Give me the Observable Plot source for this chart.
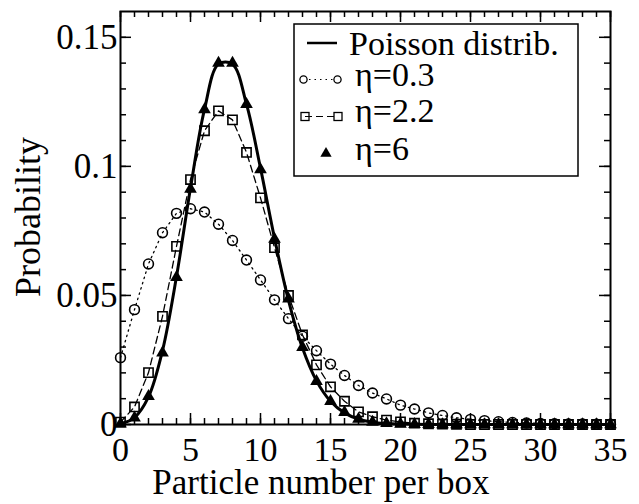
<!DOCTYPE html>
<html><head><meta charset="utf-8">
<script src="https://cdn.jsdelivr.net/npm/d3@7"></script>
<script src="https://cdn.jsdelivr.net/npm/@observablehq/plot@0.6"></script>
<style>body{margin:0;background:#fff}</style>
</head><body><div id="chart"></div>
<script>
const particles = [0,1,2,3,4,5,6,7,8,9,10,11,12,13,14,15,16,17,18,19,20,21,22,23,24,25,26,27,28,29,30,31,32,33,34,35];
const poisson = [0.0003,0.0027,0.0107,0.0286,0.0573,0.0916,0.1221,0.1396,0.1396,0.1241,0.0993,0.0722,0.0481,0.0296,0.0169,0.0090,0.0045,0.0021,0.0009,0.0004,0.0002,0.0001,0,0,0,0,0,0,0,0,0,0,0,0,0,0];
const eta03 = [0.0259,0.0445,0.0622,0.0743,0.0818,0.0836,0.0823,0.0776,0.0713,0.0637,0.0560,0.0483,0.0410,0.0342,0.0286,0.0234,0.0190,0.0151,0.0122,0.0099,0.0075,0.0060,0.0045,0.0035,0.0026,0.0020,0.0015,0.0011,0.0008,0.0006,0.0004,0.0003,0.0002,0.0002,0.0001,0.0001];
const eta22 = [0.0009,0.0068,0.0201,0.0419,0.0690,0.0949,0.1138,0.1215,0.1180,0.1054,0.0878,0.0685,0.0500,0.0347,0.0231,0.0146,0.0090,0.0049,0.0030,0.0017,0.0010,0.0005,0.0003,0.0002,0.0001,0,0,0,0,0,0,0,0,0,0,0];
const eta6 = [0.0003,0.0026,0.0109,0.0278,0.0570,0.0912,0.1220,0.1400,0.1400,0.1240,0.0988,0.0718,0.0487,0.0299,0.0167,0.0090,0.0047,0.0021,0.0009,0.0004,0.0002,0.0001,0.0001,0,0,0,0,0,0,0,0,0,0,0,0,0];
const xTicks = [0,5,10,15,20,25,30,35];
const yTicks = [0,0.05,0.1,0.15];
const yTickLabels = ["0","0.05","0.1","0.15"];
const xMinor = d3.range(0,36,1);
const yMinor = [0,0.01,0.02,0.03,0.04,0.05,0.06,0.07,0.08,0.09,0.1,0.11,0.12,0.13,0.14,0.15];
const legendLabels = ["Poisson distrib.","η=0.3","η=2.2","η=6"];
const xLabel = "Particle number per box";
const yLabel = "Probability";

const rows = particles.map((p,i)=>({p, poisson: poisson[i], a: eta03[i], b: eta22[i], c: eta6[i]}));

const W = 639, H = 504, mL = 120, mR = 29, mT = 11, mB = 80;
const innerH = H - mT - mB, innerW = W - mL - mR;
const font = "'Liberation Serif', 'Times New Roman', serif";

const plot = Plot.plot({
  width: W, height: H,
  marginLeft: mL, marginRight: mR, marginTop: mT, marginBottom: mB,
  style: {fontFamily: font, background: "white", color: "black"},
  x: {domain: [0,35]},
  y: {domain: [0,0.16]},
  marks: [
    Plot.tickX(xMinor, {x: d=>d, insetTop: innerH-6, stroke:"black", strokeWidth:1.5}),
    Plot.tickX(xMinor, {x: d=>d, insetBottom: innerH-6, stroke:"black", strokeWidth:1.5}),
    Plot.tickX(xTicks, {x: d=>d, insetTop: innerH-11, stroke:"black", strokeWidth:1.5}),
    Plot.tickX(xTicks, {x: d=>d, insetBottom: innerH-11, stroke:"black", strokeWidth:1.5}),
    Plot.tickY(yMinor, {y: d=>d, insetRight: innerW-6, stroke:"black", strokeWidth:1.5}),
    Plot.tickY(yMinor, {y: d=>d, insetLeft: innerW-6, stroke:"black", strokeWidth:1.5}),
    Plot.tickY(yTicks, {y: d=>d, insetRight: innerW-11, stroke:"black", strokeWidth:1.5}),
    Plot.tickY(yTicks, {y: d=>d, insetLeft: innerW-11, stroke:"black", strokeWidth:1.5}),
    Plot.axisX({ticks: xTicks, tickSize: 0, tickPadding: 12, fontSize: 34, label: null, tickFormat: d=>String(d)}),
    Plot.axisY({ticks: yTicks, tickSize: 0, tickPadding: 3, fontSize: 35, label: null, tickFormat: d=>yTickLabels[yTicks.indexOf(d)]}),
    Plot.line(rows, {x:"p", y:"a", stroke:"black", strokeWidth:1.3, strokeDasharray:"1.5,4"}),
    Plot.line(rows, {x:"p", y:"b", stroke:"black", strokeWidth:1.3, strokeDasharray:"7,4"}),
    Plot.line(rows, {x:"p", y:"poisson", stroke:"black", strokeWidth:3, curve:"catmull-rom"}),
    Plot.dot(rows, {x:"p", y:"a", symbol:"circle", r:4.9, stroke:"black", strokeWidth:1.6, fill:"none"}),
    Plot.dot(rows, {x:"p", y:"b", symbol:"square", r:5.2, stroke:"black", strokeWidth:1.6, fill:"none"}),
    Plot.dot(rows, {x:"p", y:"c", symbol:"triangle", r:4.7, fill:"black", stroke:"none"}),
    Plot.frame({stroke:"black", strokeWidth:2})
  ]
});

const svg = d3.select(plot);
svg.append("text").attr("x", 321).attr("y", 494).attr("text-anchor","middle").attr("font-family",font)
  .attr("font-size", 35).attr("fill","black").text(xLabel);
svg.append("text").attr("transform","translate(40,217) rotate(-90)").attr("text-anchor","middle").attr("font-family",font)
  .attr("font-size", 36).attr("fill","black").text(yLabel);

const lg = svg.append("g");
lg.append("rect").attr("x",294).attr("y",24).attr("width",284).attr("height",152)
  .attr("fill","white").attr("stroke","black").attr("stroke-width",1.5);
lg.append("line").attr("x1",307).attr("x2",337).attr("y1",43).attr("y2",43).attr("stroke","black").attr("stroke-width",2.5);
lg.append("line").attr("x1",303.5).attr("x2",337.5).attr("y1",79.5).attr("y2",79.5).attr("stroke","black").attr("stroke-width",1.2).attr("stroke-dasharray","1.5,4");
lg.append("circle").attr("cx",303.5).attr("cy",79.5).attr("r",3.6).attr("fill","white").attr("stroke","black").attr("stroke-width",1.3);
lg.append("circle").attr("cx",337.5).attr("cy",79.5).attr("r",3.6).attr("fill","white").attr("stroke","black").attr("stroke-width",1.3);
lg.append("line").attr("x1",305).attr("x2",338).attr("y1",116.5).attr("y2",116.5).attr("stroke","black").attr("stroke-width",1.2).attr("stroke-dasharray","7,4");
lg.append("rect").attr("x",301).attr("y",112.5).attr("width",8).attr("height",8).attr("fill","none").attr("stroke","black").attr("stroke-width",1.3);
lg.append("rect").attr("x",334).attr("y",112.5).attr("width",8).attr("height",8).attr("fill","white").attr("stroke","black").attr("stroke-width",1.3);
lg.append("path").attr("transform","translate(326,153.5)").attr("d", d3.symbol(d3.symbolTriangle, Math.PI*4.2*4.2)()).attr("fill","black");
const lx = [349,355,355,355], ly = [55,86,122,160];
legendLabels.forEach((t,i)=>{
  lg.append("text").attr("x",lx[i]).attr("y",ly[i]).attr("text-anchor","start").attr("font-family",font).attr("font-size",34).attr("fill","black").text(t);
});

document.getElementById("chart").appendChild(plot);
</script>
</body></html>
